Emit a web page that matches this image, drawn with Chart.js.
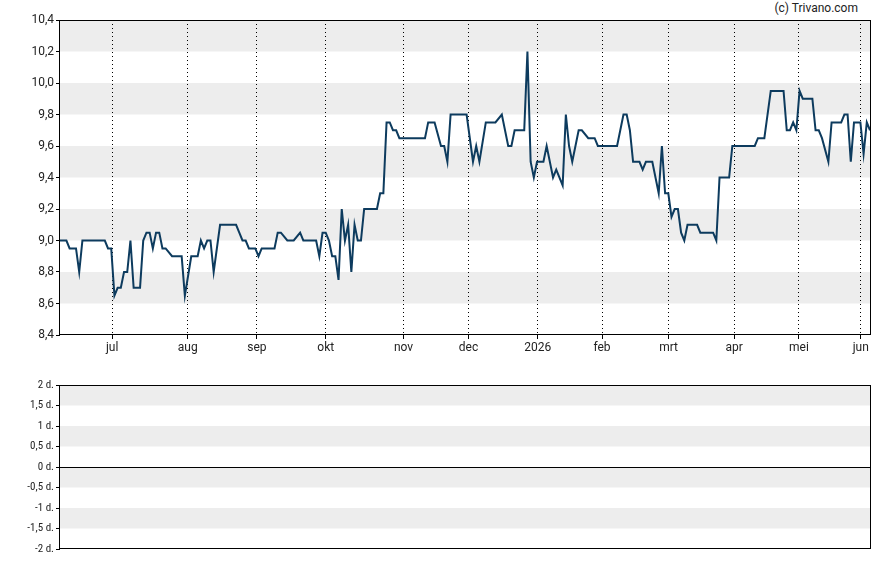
<!DOCTYPE html>
<html>
<head>
<meta charset="utf-8">
<script src="https://cdn.jsdelivr.net/npm/chart.js@4/dist/chart.umd.min.js"></script>
<style>
  body { margin: 0; background: #fff; width: 888px; height: 565px; position: relative; overflow: hidden; }
  #price { position: absolute; left: 0; top: 0; }
  #volume { position: absolute; left: 0; top: 360px; }
  .copy { position: absolute; right: 30px; top: 1px; font: 12px Roboto, sans-serif; color: #222; }
</style>
</head>
<body>
<div class="copy">(c) Trivano.com</div>
<canvas id="price" width="888" height="360"></canvas>
<canvas id="volume" width="888" height="205"></canvas>
<script>
// trading day index (0 = first day shown) and closing price
const dayIndex = [
  0, 2, 3, 5, 6, 7, 14, 15, 16, 17, 18, 19, 20, 21, 22, 23, 25, 26, 27, 28,
  29, 30, 31, 32, 33, 35, 38, 39, 41, 43, 44, 45, 46, 47, 48, 50, 55, 56, 57, 58,
  59, 61, 62, 63, 67, 68, 69, 71, 73, 75, 76, 80, 81, 82, 83, 84, 85, 86, 87, 88,
  89, 90, 91, 92, 93, 94, 95, 99, 100, 101, 102, 103, 104, 105, 106, 114, 115, 117, 119, 120,
  121, 122, 127, 129, 130, 131, 133, 136, 138, 140, 141, 142, 145, 146, 147, 148, 149, 151, 152, 154,
  155, 157, 158, 159, 160, 162, 163, 165, 167, 168, 174, 176, 177, 178, 179, 181, 182, 183, 185, 187,
  188, 189, 190, 191, 192, 193, 194, 195, 196, 199, 200, 204, 205, 206, 209, 210, 217, 218, 220, 222,
  226, 227, 228, 229, 230, 231, 232, 235, 236, 237, 238, 240, 241, 244, 245, 246, 247, 248, 250, 251,
  252, 253
];
const closePrice = [
  9.0, 9.0, 8.95, 8.95, 8.8, 9.0, 9.0, 8.95, 8.95, 8.65, 8.7, 8.7, 8.8, 8.8, 9.0, 8.7, 8.7, 9.0, 9.05, 9.05,
  8.95, 9.05, 9.05, 8.95, 8.95, 8.9, 8.9, 8.65, 8.9, 8.9, 9.0, 8.95, 9.0, 9.0, 8.8, 9.1, 9.1, 9.05, 9.0, 9.0,
  8.95, 8.95, 8.9, 8.95, 8.95, 9.05, 9.05, 9.0, 9.0, 9.05, 9.0, 9.0, 8.9, 9.05, 9.05, 9.0, 8.9, 8.9, 8.75, 9.2,
  9.0, 9.1, 8.8, 9.1, 9.0, 9.0, 9.2, 9.2, 9.3, 9.3, 9.75, 9.75, 9.7, 9.7, 9.65, 9.65, 9.75, 9.75, 9.6, 9.6,
  9.5, 9.8, 9.8, 9.5, 9.6, 9.5, 9.75, 9.75, 9.8, 9.6, 9.6, 9.7, 9.7, 10.2, 9.5, 9.4, 9.5, 9.5, 9.6, 9.4,
  9.45, 9.35, 9.8, 9.6, 9.5, 9.7, 9.7, 9.65, 9.65, 9.6, 9.6, 9.8, 9.8, 9.7, 9.5, 9.5, 9.45, 9.5, 9.5, 9.3,
  9.6, 9.3, 9.3, 9.15, 9.2, 9.2, 9.05, 9.0, 9.1, 9.1, 9.05, 9.05, 9.0, 9.4, 9.4, 9.6, 9.6, 9.65, 9.65, 9.95,
  9.95, 9.7, 9.7, 9.75, 9.7, 9.95, 9.9, 9.9, 9.7, 9.7, 9.65, 9.5, 9.75, 9.75, 9.8, 9.8, 9.5, 9.75, 9.75, 9.55,
  9.75, 9.7
];
const monthPos = [16.3, 39.9, 61.5, 83.0, 107.3, 127.6, 149.2, 169.3, 190.1, 210.6, 230.8, 250.1];
const monthLabels = ['jul', 'aug', 'sep', 'okt', 'nov', 'dec', '2026', 'feb', 'mrt', 'apr', 'mei', 'jun'];
const lastDay = 253;
const volumeValues = []; // no entries in the lower panel

const bandsAndFrame = {
  id: 'bandsAndFrame',
  beforeDraw(chart) {
    const { ctx, chartArea } = chart;
    const y = chart.scales.y;
    const ticks = y.ticks.map(t => t.value).sort((a, b) => b - a);
    ctx.save();
    ctx.fillStyle = '#ededed';
    for (let i = 0; i + 1 < ticks.length; i += 2) {
      const top = y.getPixelForValue(ticks[i]);
      const bottom = y.getPixelForValue(ticks[i + 1]);
      ctx.fillRect(chartArea.left, top, chartArea.right - chartArea.left, bottom - top);
    }
    ctx.restore();
  },
  afterDraw(chart) {
    const { ctx, chartArea } = chart;
    ctx.save();
    ctx.strokeStyle = '#000';
    ctx.lineWidth = 1;
    ctx.strokeRect(Math.round(chartArea.left) - 0.5, Math.round(chartArea.top) + 0.5,
      Math.round(chartArea.right - chartArea.left) + 1, Math.round(chartArea.bottom - chartArea.top) - 1);
    ctx.restore();
  }
};

const tickFont = { family: 'Roboto', size: 12 };

new Chart(document.getElementById('price'), {
  type: 'line',
  data: {
    datasets: [{
      data: dayIndex.map((d, i) => ({ x: d, y: closePrice[i] })),
      borderColor: '#0d3b5e',
      borderWidth: 2,
      pointRadius: 0,
      tension: 0,
    }],
  },
  options: {
    responsive: false,
    animation: false,
    layout: { padding: { top: 20, right: 18, left: 0, bottom: 0 } },
    plugins: { legend: { display: false }, tooltip: { enabled: false } },
    scales: {
      x: {
        type: 'linear',
        min: 0,
        max: lastDay,
        afterBuildTicks(scale) {
          scale.ticks = monthPos.map(v => ({ value: v }));
        },
        afterFit(scale) { scale.height = 25; },
        ticks: {
          autoSkip: false,
          maxRotation: 0,
          padding: 2,
          color: '#222',
          font: tickFont,
          callback(value, index) { return monthLabels[index]; },
        },
        grid: { color: '#000', lineWidth: 1, tickLength: 4, drawTicks: true },
        border: { display: false, dash: [1, 3] },
      },
      y: {
        min: 8.4,
        max: 10.4,
        afterFit(scale) { scale.width = 60; },
        ticks: {
          stepSize: 0.2,
          padding: 2,
          color: '#222',
          font: tickFont,
          callback(value) { return value.toFixed(1).replace('.', ','); },
        },
        grid: { drawOnChartArea: false, tickLength: 4, color: '#000' },
        border: { display: false },
      },
    },
  },
  plugins: [bandsAndFrame],
});

new Chart(document.getElementById('volume'), {
  type: 'line',
  data: {
    datasets: [{ data: volumeValues, borderColor: '#0d3b5e', pointRadius: 0 }],
  },
  options: {
    responsive: false,
    animation: false,
    layout: { padding: { top: 25, right: 18, left: 0, bottom: 16 } },
    plugins: { legend: { display: false }, tooltip: { enabled: false } },
    scales: {
      x: { type: 'linear', min: 0, max: lastDay, display: false },
      y: {
        min: -2,
        max: 2,
        afterFit(scale) { scale.width = 60; },
        ticks: {
          stepSize: 0.5,
          padding: 2,
          color: '#222',
          font: { family: '"Liberation Sans Narrow", "Roboto Condensed", Roboto', size: 11 },
          callback(value) { return String(value).replace('.', ',') + ' d.'; },
        },
        grid: {
          drawOnChartArea: true,
          tickLength: 4,
          tickColor: '#000',
          color: ctx => (ctx.tick && ctx.tick.value === 0 ? '#000' : 'rgba(0,0,0,0)'),
        },
        border: { display: false },
      },
    },
  },
  plugins: [bandsAndFrame],
});
</script>
</body>
</html>
